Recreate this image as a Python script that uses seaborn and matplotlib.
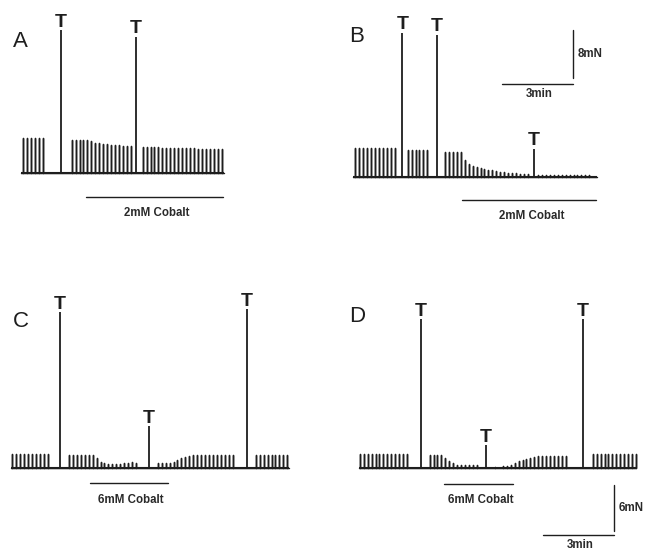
import numpy as np
import pandas as pd
import seaborn as sns
import matplotlib.pyplot as plt

# ---- data (time in min, force in mN) ----
STIM_INTERVAL = 1 / 6  # one twitch every 10 s

# A: 2mM cobalt
A_GROUP_STARTS = [0.08, 2.14, 5.14]
A_GROUP_AMPS = [
    [5.8, 5.8, 5.8, 5.8, 5.8, 5.8],
    [5.4, 5.4, 5.4, 5.4, 5.4, 5.2, 5.0, 4.9, 4.8, 4.7, 4.65, 4.6, 4.55, 4.5, 4.5, 4.5],
    [4.25, 4.25, 4.2, 4.2, 4.2, 4.15, 4.15, 4.15, 4.1, 4.1, 4.1, 4.1, 4.05, 4.05,
     4.0, 4.0, 4.0, 3.95, 3.95, 3.9, 3.9],
]
A_T_TIMES = [1.68, 4.85]
A_T_HEIGHTS = [23.75, 22.6]
A_END = 8.58
A_COBALT = [2.75, 8.53]

# B: 2mM cobalt
B_GROUP_STARTS = [0.1, 2.32, 3.9, 7.83]
B_GROUP_AMPS = [
    [4.8, 4.8, 4.8, 4.85, 4.8, 4.8, 4.8, 4.8, 4.8, 4.8, 4.8],
    [4.4, 4.4, 4.4, 4.4, 4.4, 4.4],
    [4.2, 4.2, 4.2, 4.2, 4.2, 2.8, 2.1, 1.8, 1.6, 1.4, 1.3, 1.17, 1.07, 0.95, 0.83,
     0.78, 0.67, 0.62, 0.57, 0.5, 0.45, 0.4],
    [0.3] * 14,
]
B_T_TIMES = [2.1, 3.57, 7.66]
B_T_HEIGHTS = [24.0, 23.7, 4.7]
B_END = 10.3
B_COBALT = [4.63, 10.27]

# C: 6mM cobalt
C_GROUP_STARTS = [0.055, 2.45, 6.2, 10.34]
C_GROUP_AMPS = [
    [1.83] * 10,
    [1.65, 1.65, 1.65, 1.65, 1.65, 1.65, 1.65, 1.25, 0.8, 0.55, 0.5, 0.5, 0.5, 0.5,
     0.55, 0.6, 0.7, 0.65],
    [0.55, 0.55, 0.6, 0.6, 0.75, 0.95, 1.2, 1.35, 1.55, 1.65, 1.65, 1.65, 1.65, 1.65,
     1.65, 1.65, 1.65, 1.65, 1.65, 1.65],
    [1.65, 1.7, 1.7, 1.7, 1.7, 1.7, 1.7, 1.7, 1.7],
]
C_T_TIMES = [2.07, 5.83, 9.98]
C_T_HEIGHTS = [20.3, 5.4, 20.65]
C_END = 11.75
C_COBALT = [3.34, 6.62]

# D: 6mM cobalt
D_GROUP_STARTS = [0.02, 2.97, 5.73, 9.86]
D_GROUP_AMPS = [
    [1.8] * 13,
    [1.65, 1.65, 1.65, 1.65, 1.25, 0.9, 0.6, 0.45, 0.4, 0.4, 0.4, 0.4, 0.4],
    [0.12, 0.05, 0.2, 0.27, 0.43, 0.7, 0.87, 1.04, 1.2, 1.35, 1.48, 1.57, 1.57, 1.57,
     1.57, 1.57, 1.57, 1.57, 1.57],
    [1.8] * 12,
]
D_T_TIMES = [2.59, 5.35, 9.46]
D_T_HEIGHTS = [19.4, 3.0, 19.4]
D_END = 11.69
D_COBALT = [3.56, 6.51]

COBALT_LABELS = ['2mM Cobalt', '2mM Cobalt', '6mM Cobalt', '6mM Cobalt']
SCALE_B = (3, 8)   # min, mN
SCALE_D = (3, 6)

# ---- layout (pixels) ----
W, H = 654, 551
PX_PER_MIN = 23.67
INK = '#1e1e1e'

sns.set_theme(style='white')
plt.rcParams['font.family'] = ['Liberation Sans', 'DejaVu Sans']

fig = plt.figure(figsize=(W / 100, H / 100), dpi=100)
fig.patch.set_facecolor('white')


def make_ax(rect, origin, px_per_mn):
    x0, y0, w, h = rect
    ax = fig.add_axes([x0 / W, 1 - (y0 + h) / H, w / W, h / H])
    ox, oy = origin
    ax.set_xlim((x0 - ox) / PX_PER_MIN, (x0 + w - ox) / PX_PER_MIN)
    ax.set_ylim((oy - (y0 + h)) / px_per_mn, (oy - y0) / px_per_mn)
    ax.axis('off')
    return ax


def draw_trace(ax, starts, amps, t_times, t_heights, t_end):
    ev = []
    for s, group in zip(starts, amps):
        for i, a in enumerate(group):
            ev.append((s + i * STIM_INTERVAL, a))
    ev.sort()
    xs, ys = [0.0], [0.0]
    for t, a in ev:
        xs += [t, t, t]
        ys += [0, a, 0]
    xs.append(t_end)
    ys.append(0)
    df = pd.DataFrame({'t': xs, 'f': ys})
    sns.lineplot(data=df, x='t', y='f', sort=False, estimator=None, ax=ax,
                 color=INK, lw=1.05)
    ax.plot([0, t_end], [0, 0], color=INK, lw=1.5, solid_capstyle='butt')
    ax.vlines(t_times, 0, t_heights, color=INK, lw=1.3)
    for t, h in zip(t_times, t_heights):
        ax.annotate('T', (t, h), xytext=(0, 2.5), textcoords='offset points',
                    ha='center', va='baseline', fontsize=14, fontweight='bold',
                    color=INK)


def draw_cobalt(ax, span, ybar, label):
    ax.plot(span, [ybar, ybar], color=INK, lw=1.0)
    ax.annotate(label, (np.mean(span) + 0.1, ybar), xytext=(0, -11.8),
                textcoords='offset points', ha='center', va='center',
                fontsize=8.3, fontweight='bold', color='#2a2a2a')


def draw_scale(ax, x_right, y_bottom, y_gap, scale):
    mins, mn = scale
    ax.plot([x_right - mins, x_right], [y_bottom, y_bottom], color=INK, lw=1.0)
    ax.plot([x_right, x_right], [y_bottom + y_gap, y_bottom + y_gap + mn],
            color=INK, lw=1.0)
    ax.annotate(f'{mins}min', (x_right - mins / 2 + 0.05, y_bottom), xytext=(0, -7.2),
                textcoords='offset points', ha='center', va='center',
                fontsize=8.3, fontweight='bold', color='#2a2a2a')
    ax.annotate(f'{mn}mN', (x_right, y_bottom + y_gap + mn / 2), xytext=(12.5, 0),
                textcoords='offset points', ha='center', va='center',
                fontsize=8.3, fontweight='bold', color='#2a2a2a')


axA = make_ax((0, 0, 330, 272), (21, 172.5), 6.0)
axB = make_ax((330, 0, 324, 272), (352.7, 176.7), 6.0)
axC = make_ax((0, 272, 330, 279), (11, 467.7), 7.67)
axD = make_ax((330, 272, 324, 279), (359.3, 468), 7.67)

draw_trace(axA, A_GROUP_STARTS, A_GROUP_AMPS, A_T_TIMES, A_T_HEIGHTS, A_END)
draw_trace(axB, B_GROUP_STARTS, B_GROUP_AMPS, B_T_TIMES, B_T_HEIGHTS, B_END)
draw_trace(axC, C_GROUP_STARTS, C_GROUP_AMPS, C_T_TIMES, C_T_HEIGHTS, C_END)
draw_trace(axD, D_GROUP_STARTS, D_GROUP_AMPS, D_T_TIMES, D_T_HEIGHTS, D_END)

draw_cobalt(axA, A_COBALT, -4.08, COBALT_LABELS[0])
draw_cobalt(axB, B_COBALT, -3.9, COBALT_LABELS[1])
draw_cobalt(axC, C_COBALT, -2.03, COBALT_LABELS[2])
draw_cobalt(axD, D_COBALT, -2.09, COBALT_LABELS[3])

draw_scale(axB, 9.31, 15.45, 1.0, SCALE_B)
draw_scale(axD, 10.77, -8.74, 0.54, SCALE_D)

for letter, (px, py) in zip('ABCD', [(20.7, 41.7), (356.7, 36.7), (20.7, 321.7), (356.7, 316.7)]):
    fig.text(px / W, 1 - py / H, letter, ha='center', va='center', fontsize=16,
             color=INK)

fig.savefig('out.png', dpi=100)
